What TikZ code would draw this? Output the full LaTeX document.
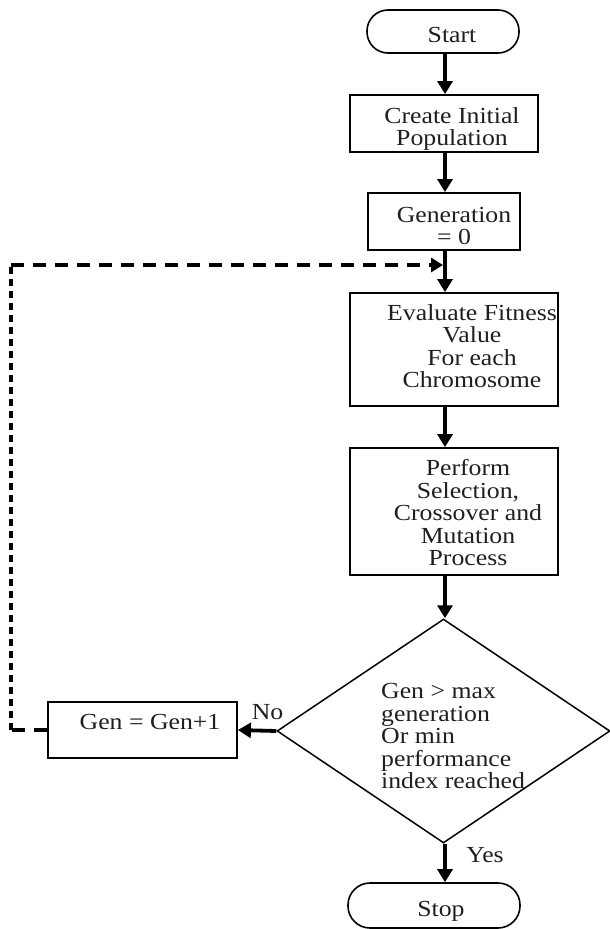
\documentclass[tikz,border=0pt]{standalone}
\usepackage{fontspec}
\setmainfont{Liberation Serif}[FakeStretch=1.12]
\usetikzlibrary{arrows.meta,shapes.geometric}
\begin{document}
\begin{tikzpicture}[x=1pt,y=-1pt,
  box/.style={draw, line width=1.8pt, inner sep=0pt},
  term/.style={draw, line width=1.6pt, rounded corners=21pt, inner sep=0pt},
  txt/.style={align=center, inner sep=0pt, text=black!88, font=\fontsize{23}{22.5}\selectfont},
  arr/.style={line width=3.8pt, -{Triangle[width=15pt,length=13pt]}},
  dashln/.style={line width=3.4pt, dash pattern=on 13pt off 9pt},
]
\useasboundingbox (0,0) rectangle (610,929);
\coordinate (ax) at (445,0);
% nodes
\node[term, minimum width=152pt, minimum height=43pt] (start) at (443,31.5) {};
\node[txt] (starttxt) at (452,35) {Start};
\node[box, minimum width=188pt, minimum height=57pt] (create) at (444,123.5) {};
\node[txt] (createtxt) at (452,129) {Create Initial\\Population};
\node[box, minimum width=152pt, minimum height=57pt] (gen0) at (444,221.5) {};
\node[txt] (gen0txt) at (454,226) {Generation\\= 0};
\node[box, minimum width=208pt, minimum height=113pt] (eval) at (454,349.5) {};
\node[txt] (evaltxt) at (472,346) {Evaluate Fitness\\Value\\For each\\Chromosome};
\node[box, minimum width=208pt, minimum height=127pt] (perf) at (454,511.5) {};
\node[txt] (perftxt) at (468,513) {Perform\\Selection,\\Crossover and\\Mutation\\Process};
\node[diamond, draw, line width=1.5pt, inner sep=0pt, minimum width=333pt, minimum height=224pt, shape aspect=1.49] (dec) at (443.5,731) {};
\node[txt, align=left, anchor=west] (dectxt) at (381,736) {Gen > max\\generation\\Or min\\performance\\index reached};
\node[box, minimum width=189pt, minimum height=56pt] (genp) at (142.5,730) {};
\node[txt] (genptxt) at (150,722) {Gen = Gen+1};
\node[term, minimum width=172pt, minimum height=45pt, rounded corners=22pt] (stop) at (434,905.5) {};
\node[txt] (stoptxt) at (441,911) {Stop};
\node[txt] (no) at (267.5,712) {No};
\node[txt] (yes) at (485,855) {Yes};
% connectors
\draw[arr] (start.south -| ax) -- (create.north -| ax);
\draw[arr] (create.south -| ax) -- (gen0.north -| ax);
\draw[arr] (gen0.south -| ax) -- (eval.north -| ax);
\draw[arr] (eval.south -| ax) -- (perf.north -| ax);
\draw[arr] (perf.south -| ax) -- (dec.north -| ax);
\draw[arr] (dec.south -| ax) -- (stop.north -| ax);
\draw[arr] (dec.west) -- (genp.east);
\coordinate (c1) at (11,730);
\coordinate (c2) at (11,265);
\coordinate (join) at (443,265);
\draw[dashln] (genp.west) -- (c1);
\draw[dashln, dash pattern=on 7pt off 5pt] (c1) -- (c2);
\draw[dashln, -{Triangle[width=14pt,length=12pt]}] (c2) -- (join);
\end{tikzpicture}
\end{document}
